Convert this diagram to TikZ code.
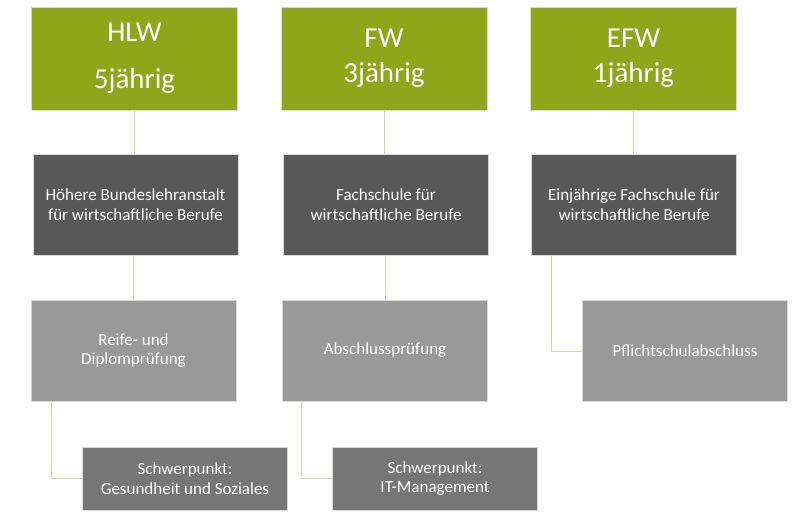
\documentclass[tikz,border=0pt]{standalone}
\usepackage{fontspec}
\setmainfont{Carlito}
\definecolor{olive}{HTML}{8FA61A}
\definecolor{darkbox}{HTML}{585858}
\definecolor{midbox}{HTML}{999999}
\definecolor{spbox}{HTML}{767676}
\definecolor{conn}{HTML}{D4DAA8}
\begin{document}
\begin{tikzpicture}[x=1pt,y=-1pt,
  box/.style={rectangle,inner sep=0pt,outer sep=0pt,text=white,align=center,
    draw=white!85!black,line width=0.6pt},
  headbox/.style={box,fill=olive,minimum width=206pt,minimum height=103pt,
    font=\fontsize{29}{35}\selectfont},
  schoolbox/.style={box,fill=darkbox,minimum width=205pt,minimum height=101pt,
    font=\fontsize{17}{19.5}\selectfont},
  exambox/.style={box,fill=midbox,minimum width=205pt,minimum height=101pt,
    font=\fontsize{17}{19.5}\selectfont},
  focusbox/.style={box,fill=spbox,minimum width=205pt,minimum height=63pt,
    font=\fontsize{17}{19.5}\selectfont},
  link/.style={draw=conn,line width=1pt}]
\useasboundingbox (0,0) rectangle (800,513);
% row 1
\node[headbox] (hlw) at (134.5,58.5) {HLW\\[12pt]5jährig};
\node[headbox] (fw) at (384,58.5) {FW\\3jährig};
\node[headbox] (efw) at (633.5,58.5) {EFW\\1jährig};
% row 2
\node[schoolbox] (hlwd) at (135.5,204.5) {Höhere Bundeslehranstalt\\für wirtschaftliche Berufe};
\node[schoolbox] (fwd) at (386,204.5) {Fachschule für\\wirtschaftliche Berufe};
\node[schoolbox] (efwd) at (634,204.5) {Einjährige Fachschule für\\wirtschaftliche Berufe};
% row 3
\node[exambox] (reife) at (133.5,350.5) {Reife- und\\Diplomprüfung};
\node[exambox] (absch) at (385,350.5) {Abschlussprüfung};
\node[exambox] (pfl) at (685,351) {Pflichtschulabschluss};
% row 4
\node[focusbox] (sp1) at (185,478.5) {Schwerpunkt:\\Gesundheit und Soziales};
\node[focusbox] (sp2) at (435,478.5) {Schwerpunkt:\\IT-Management};
% connectors
\draw[link] (hlw.south) -- (hlw.south |- hlwd.north);
\draw[link] (fw.south) -- (fw.south |- fwd.north);
\draw[link] (efw.south) -- (efw.south |- efwd.north);
\draw[link] (reife.north) -- (reife.north |- hlwd.south);
\draw[link] (absch.north) -- (absch.north |- fwd.south);
\draw[link] ([xshift=20pt]reife.south west) |- (sp1.west);
\draw[link] ([xshift=19pt]absch.south west) |- (sp2.west);
\draw[link] ([xshift=20pt]efwd.south west) |- (pfl.west);
\end{tikzpicture}
\end{document}
